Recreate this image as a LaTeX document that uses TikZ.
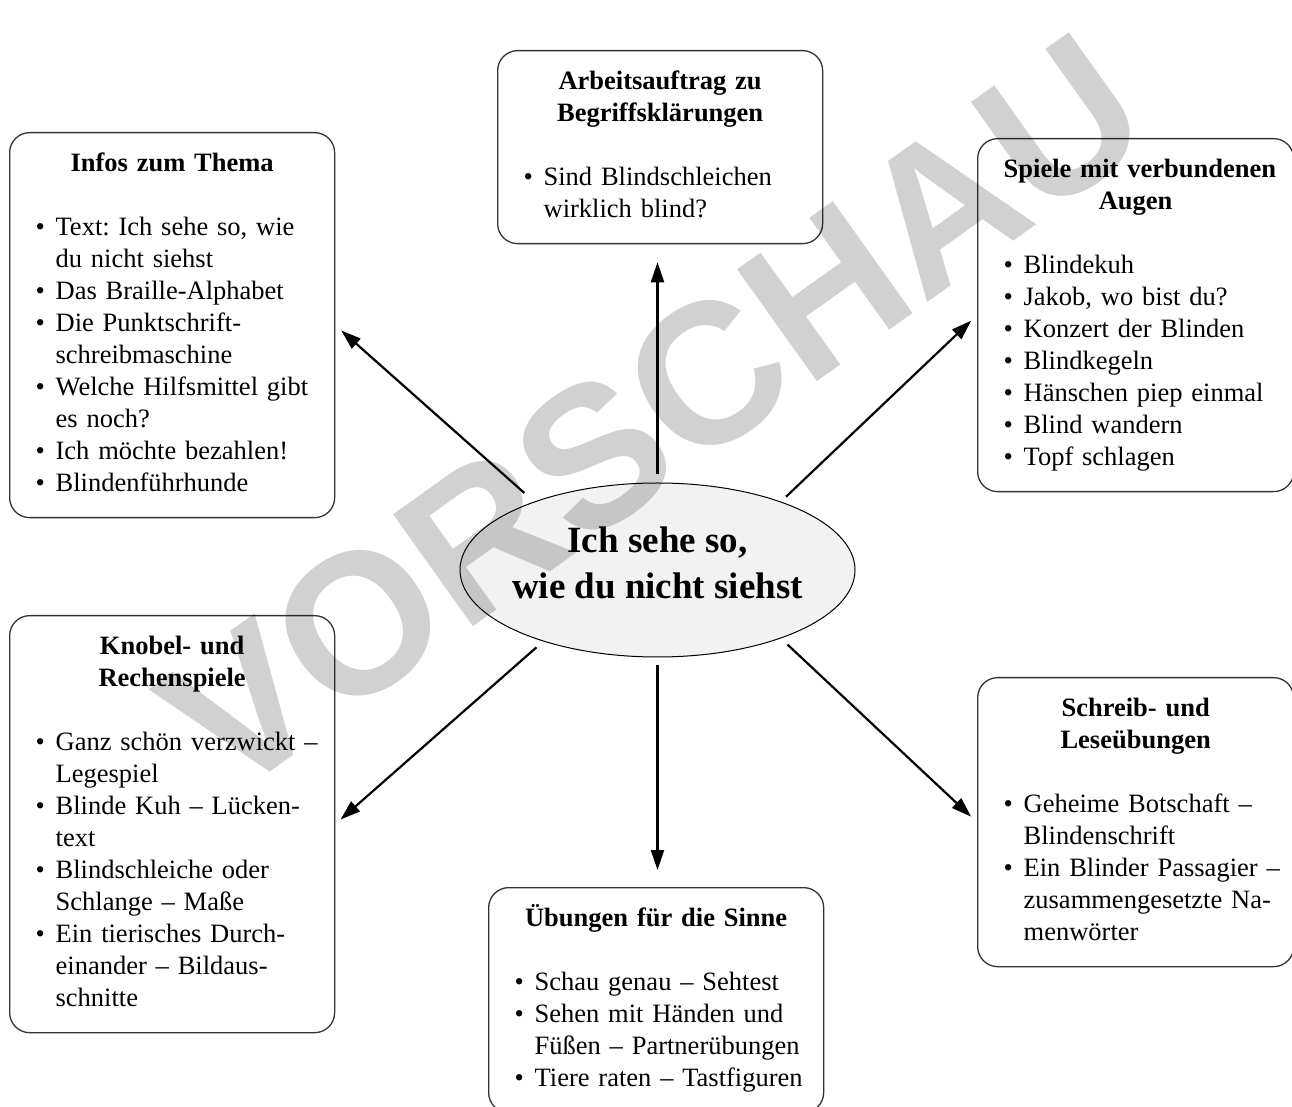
\documentclass[tikz,border=0pt]{standalone}
\usepackage{fontspec}
\setmainfont{Liberation Serif}
\newfontfamily\wmfont{Liberation Sans}
\usetikzlibrary{arrows.meta,shapes.geometric}
\frenchspacing

% list lines inside the boxes
\newcommand{\ttl}[1]{{\centering\bfseries\strut #1\strut\par}\vspace{32pt}}
\newcommand{\itm}[1]{\par\noindent\makebox[20pt][l]{\textbullet}\mbox{#1}\strut}
\newcommand{\cnt}[1]{\par\noindent\hspace*{20pt}\mbox{#1}\strut}

\begin{document}
\begin{tikzpicture}[x=1pt,y=1pt,
	box/.style={draw=black!80, line width=1.3pt, rounded corners=20pt,
		inner xsep=26pt, inner ysep=16.5pt, anchor=north west,
		font=\fontsize{26.5}{32}\selectfont},
	topic/.style={ellipse, draw, line width=1pt, fill=gray!10,
		minimum width=395pt, minimum height=174pt, inner xsep=-8pt, inner ysep=0pt,
		align=center, font=\bfseries\fontsize{37}{46}\selectfont},
	link/.style={line width=2.2pt, -{Triangle[length=20pt,width=13pt]}}]
	
	\useasboundingbox (0,0) rectangle (1292,1106);
	
	% Centre
	\node[topic] (ich) at (657.5,536) {Ich sehe so,\\wie du nicht siehst\strut};
	
	% Boxes
	\node[box,text width=273pt] (infos) at (9,974)
	{\ttl{Infos zum Thema}
		\itm{Text: Ich sehe so, wie}\cnt{du nicht siehst}
		\itm{Das Braille-Alphabet}
		\itm{Die Punktschrift-}\cnt{schreibmaschine}
		\itm{Welche Hilfsmittel gibt}\cnt{es noch?}
		\itm{Ich möchte bezahlen!}
		\itm{Blindenführhunde}};
	
	\node[box,text width=273pt] (arbeit) at (497,1056)
	{\ttl{Arbeitsauftrag zu\\Begriffsklärungen}
		\itm{Sind Blindschleichen}\cnt{wirklich blind?}};
	
	\node[box,text width=264pt] (spiele) at (977,968)
	{\ttl{\mbox{Spiele mit verbundenen}\\Augen}
		\itm{Blindekuh}
		\itm{Jakob, wo bist du?}
		\itm{Konzert der Blinden}
		\itm{Blindkegeln}
		\itm{Hänschen piep einmal}
		\itm{Blind wandern}
		\itm{Topf schlagen}};
	
	\node[box,text width=273pt] (knobel) at (9,491)
	{\ttl{Knobel- und\\Rechenspiele}
		\itm{Ganz schön verzwickt –}\cnt{Legespiel}
		\itm{Blinde Kuh – Lücken-}\cnt{text}
		\itm{Blindschleiche oder}\cnt{Schlange – Maße}
		\itm{Ein tierisches Durch-}\cnt{einander – Bildaus-}\cnt{schnitte}};
	
	\node[box,text width=264pt] (schreib) at (977,429)
	{\ttl{Schreib- und\\Leseübungen}
		\itm{Geheime Botschaft –}\cnt{Blindenschrift}
		\itm{Ein Blinder Passagier –}\cnt{zusammengesetzte Na-}\cnt{menwörter}};
	
	\node[box,text width=283pt] (sinne) at (488,219)
	{\ttl{Übungen für die Sinne}
		\itm{Schau genau – Sehtest}
		\itm{Sehen mit Händen und}\cnt{Füßen – Partnerübungen}
		\itm{Tiere raten – Tastfiguren}};
	
	% Arrows
	\draw[link,shorten <=8pt,shorten >=18pt] (ich.north) -- (ich.north |- arbeit.south);
	\draw[link,shorten <=8pt,shorten >=17pt] (ich.south) -- (ich.south |- sinne.north);
	\draw[link,shorten <=13pt,shorten >=8pt] (ich.151) -- (infos.east);
	\draw[link,shorten <=7pt,shorten >=8pt] (ich.29) -- (spiele.west);
	\draw[link,shorten <=9pt,shorten >=7pt] (ich.212) -- (knobel.east);
	\draw[link,shorten <=9pt,shorten >=8pt] (ich.331) -- (schreib.west);
	
	% Watermark
	\node[rotate=35.5, text=black, text opacity=0.18,
	font=\wmfont\bfseries\fontsize{200}{200}\selectfont] (vorschau) at (653,692) {VORSCHAU};
	
\end{tikzpicture}
\end{document}
